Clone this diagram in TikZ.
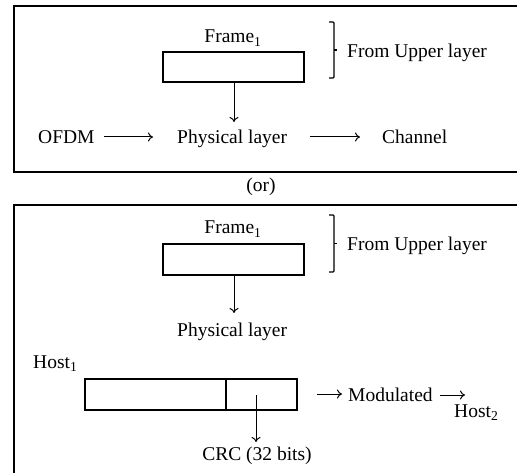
\documentclass[tikz,border=0pt]{standalone}
\usepackage{fontspec}
\setmainfont{Liberation Serif}
\usetikzlibrary{arrows.meta}
\begin{document}
\begin{tikzpicture}[x=1pt,y=-1pt,
  txt/.style={inner sep=0pt, font=\fontsize{19.5}{23}\selectfont},
  txtl/.style={txt, anchor=base west},
  txtc/.style={txt, anchor=base},
  panel/.style={draw, line width=1.4pt},
  field/.style={draw, line width=1.2pt, inner sep=0pt},
  arr/.style={line width=1pt, -{To[length=5pt,width=9pt,line width=1pt]}},
  bracket/.style={line width=1.2pt, rounded corners=1pt}]
\clip (0,0) rectangle (517,473);
\fill[white] (0,0) rectangle (517,473);

% square brace: hooks at both ends and a short tick in the middle
\newcommand{\sqbrace}[3]{% x, top y, bottom y
  \draw[bracket] (#1,#2) -- (#1+5,#2) -- (#1+5,#3) -- (#1,#3);
  \draw[line width=1.2pt] (#1+5,{(#2+#3)/2}) -- (#1+8,{(#2+#3)/2});
}

% ---- upper panel ----
\draw[panel] (14,6) rectangle (560,172);
\node[txtc] (fr1) at (233,43) {Frame\textsubscript{1}};
\node[field, minimum width=141pt, minimum height=30pt] (box1) at (233.5,67) {};
\sqbrace{329}{22}{78}
\node[txtl] (up1) at (347,58) {From Upper layer};
\node[txtl] (ofdm) at (38,144) {OFDM};
\node[txtl] (phy1) at (177,144) {Physical layer};
\node[txtl] (chan) at (382,144) {Channel};
\coordinate (a1s) at (104,137);
\coordinate (a1e) at (153,137);
\coordinate (a2s) at (310,137);
\coordinate (a2e) at (360,137);
\coordinate (d1e) at (234,122);
\draw[arr] (a1s) -- (a1e);
\draw[arr] (a2s) -- (a2e);
\draw[arr] (box1.south -| d1e) -- (d1e);

% ---- separator ----
\node[txtc] (or) at (261,192) {(or)};

% ---- lower panel ----
\draw[panel] (14,205) rectangle (560,520);
\node[txtc] (fr2) at (233,234) {Frame\textsubscript{1}};
\node[field, minimum width=141pt, minimum height=31pt] (box2) at (233.5,259.5) {};
\sqbrace{329}{215}{272}
\node[txtl] (up2) at (347,251) {From Upper layer};
\coordinate (d2e) at (234,313);
\draw[arr] (box2.south -| d2e) -- (d2e);
\node[txtl] (phy2) at (177,336) {Physical layer};

\node[txtl] (h1) at (33,368) {Host\textsubscript{1}};
\node[field, minimum width=212pt, minimum height=31pt] (pkt) at (191,394.5) {};
\coordinate (div) at (226,379);
\draw[line width=1.2pt] (div) -- (div |- pkt.south);
\coordinate (crcs) at (256,395);
\coordinate (crce) at (256,442);
\draw[arr] (crcs) -- (crce);
\node[txtc] (crc) at (257,460) {CRC (32 bits)};

\coordinate (m1s) at (317,394);
\coordinate (m1e) at (342,394);
\draw[arr] (m1s) -- (m1e);
\node[txtl] (mod) at (348,401) {Modulated};
\coordinate (m2s) at (440,395);
\coordinate (m2e) at (465,395);
\draw[arr] (m2s) -- (m2e);
\node[txtl] (h2) at (454,417) {Host\textsubscript{2}};
\end{tikzpicture}
\end{document}
